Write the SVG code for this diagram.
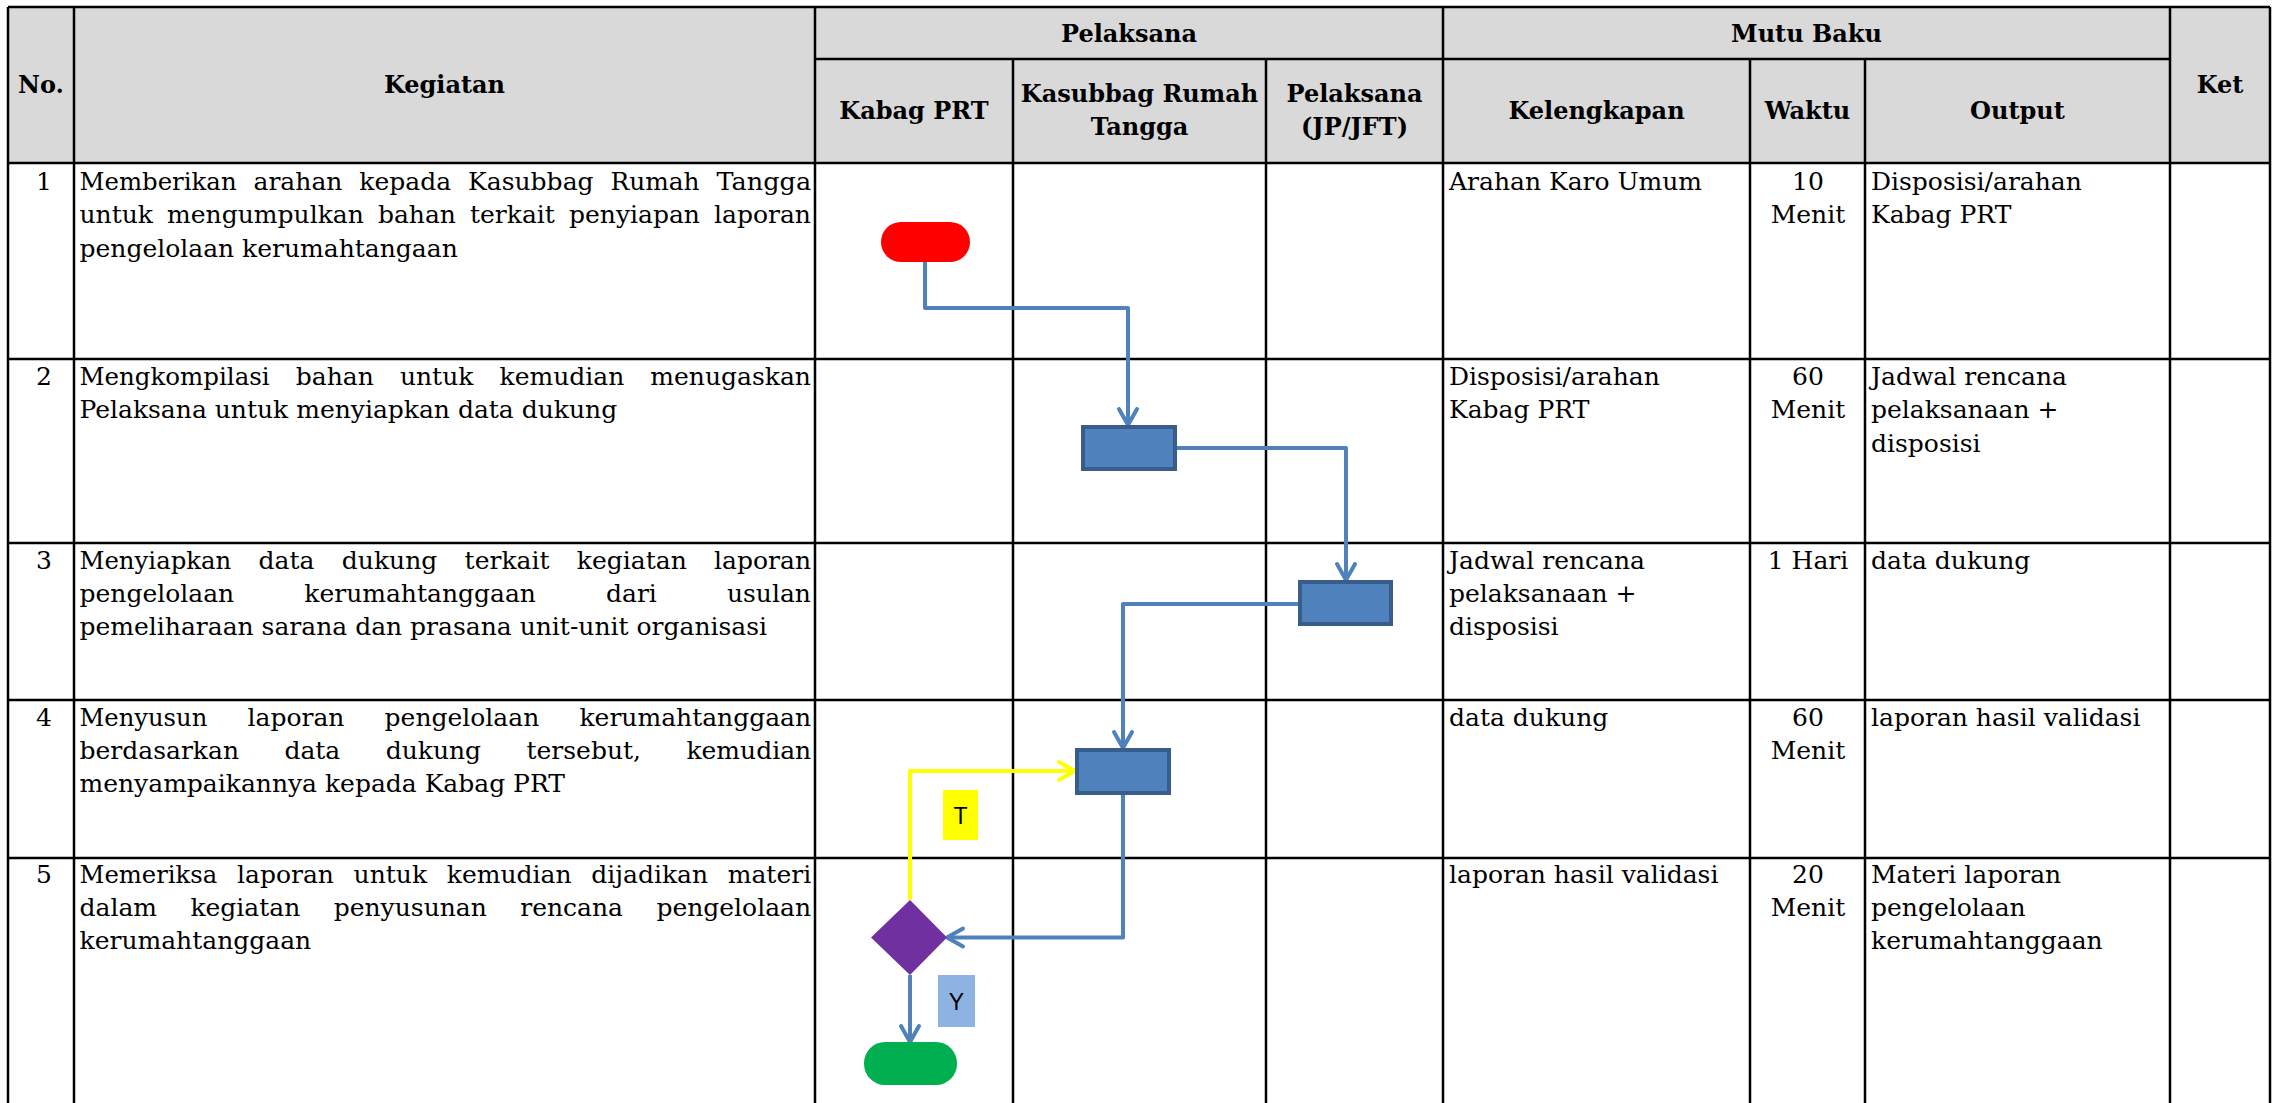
<svg xmlns="http://www.w3.org/2000/svg" width="2274" height="1103" viewBox="0 0 2274 1103">
<style>
.grid{stroke:#000;stroke-width:2.5;fill:none}
.hd{font-family:"DejaVu Serif",serif;font-weight:bold;font-size:24px;fill:#000;text-anchor:middle}
.tx{font-family:"DejaVu Serif",serif;font-size:25px;fill:#000}
.c{text-anchor:middle}
.box{fill:#4f81bd;stroke:#385d8a;stroke-width:4}
.conn{fill:none;stroke:#4f81bd;stroke-width:4;stroke-linejoin:round}
.yconn{fill:none;stroke:#ffff00;stroke-width:4;stroke-linejoin:round}
.lbl{font-family:"Liberation Sans",Arial,sans-serif;font-size:23px;fill:#000;text-anchor:middle}
</style>
<defs>
<marker id="arrB" viewBox="0 0 24 24" markerUnits="userSpaceOnUse" markerWidth="24" markerHeight="24" refX="21" refY="12" orient="auto" overflow="visible">
<path d="M5,3 L21,12 L5,21" fill="none" stroke="#4f81bd" stroke-width="4" stroke-linecap="round" stroke-linejoin="round"/>
</marker>
<marker id="arrY" viewBox="0 0 24 24" markerUnits="userSpaceOnUse" markerWidth="24" markerHeight="24" refX="21" refY="12" orient="auto" overflow="visible">
<path d="M5,3 L21,12 L5,21" fill="none" stroke="#ffff00" stroke-width="4" stroke-linecap="round" stroke-linejoin="round"/>
</marker>
</defs>
<rect width="2274" height="1103" fill="#fff"/>
<g id="table">
<rect x="8" y="7" width="2262" height="156" fill="#d9d9d9"/>
<line class="grid" x1="8" y1="7" x2="2270" y2="7"/>
<line class="grid" x1="815" y1="59" x2="2170" y2="59"/>
<line class="grid" x1="8" y1="163" x2="2270" y2="163"/>
<line class="grid" x1="8" y1="359" x2="2270" y2="359"/>
<line class="grid" x1="8" y1="543" x2="2270" y2="543"/>
<line class="grid" x1="8" y1="700" x2="2270" y2="700"/>
<line class="grid" x1="8" y1="858" x2="2270" y2="858"/>
<line class="grid" x1="8" y1="7" x2="8" y2="1103"/>
<line class="grid" x1="74" y1="7" x2="74" y2="1103"/>
<line class="grid" x1="815" y1="7" x2="815" y2="1103"/>
<line class="grid" x1="1013" y1="59" x2="1013" y2="1103"/>
<line class="grid" x1="1266" y1="59" x2="1266" y2="1103"/>
<line class="grid" x1="1443" y1="7" x2="1443" y2="1103"/>
<line class="grid" x1="1750" y1="59" x2="1750" y2="1103"/>
<line class="grid" x1="1865" y1="59" x2="1865" y2="1103"/>
<line class="grid" x1="2170" y1="7" x2="2170" y2="1103"/>
<line class="grid" x1="2270" y1="7" x2="2270" y2="1103"/>
</g>
<g id="header">
<text class="hd" x="41" y="93">No.</text>
<text class="hd" x="444.5" y="93">Kegiatan</text>
<text class="hd" x="1129" y="42">Pelaksana</text>
<text class="hd" x="1806.5" y="42">Mutu Baku</text>
<text class="hd" x="2220" y="93">Ket</text>
<text class="hd" x="914" y="119">Kabag PRT</text>
<text class="hd" x="1139.5" y="102">Kasubbag Rumah</text>
<text class="hd" x="1139.5" y="135">Tangga</text>
<text class="hd" x="1354.5" y="102">Pelaksana</text>
<text class="hd" x="1354.5" y="135">(JP/JFT)</text>
<text class="hd" x="1596.5" y="119">Kelengkapan</text>
<text class="hd" x="1807.5" y="119">Waktu</text>
<text class="hd" x="2017.5" y="119">Output</text>
</g>
<g id="row1">
<text class="tx c" x="44" y="190">1</text>
<text class="tx" x="79.5" y="190" textLength="157.1" lengthAdjust="spacingAndGlyphs">Memberikan</text>
<text class="tx" x="253.5" y="190" textLength="88.9" lengthAdjust="spacingAndGlyphs">arahan</text>
<text class="tx" x="359.3" y="190" textLength="91.8" lengthAdjust="spacingAndGlyphs">kepada</text>
<text class="tx" x="468" y="190" textLength="125.6" lengthAdjust="spacingAndGlyphs">Kasubbag</text>
<text class="tx" x="610.5" y="190" textLength="89.1" lengthAdjust="spacingAndGlyphs">Rumah</text>
<text class="tx" x="716.5" y="190" textLength="94.6" lengthAdjust="spacingAndGlyphs">Tangga</text>
<text class="tx" x="79.5" y="223" textLength="73.5" lengthAdjust="spacingAndGlyphs">untuk</text>
<text class="tx" x="167.1" y="223" textLength="196.7" lengthAdjust="spacingAndGlyphs">mengumpulkan</text>
<text class="tx" x="377.9" y="223" textLength="78" lengthAdjust="spacingAndGlyphs">bahan</text>
<text class="tx" x="470" y="223" textLength="84.9" lengthAdjust="spacingAndGlyphs">terkait</text>
<text class="tx" x="569" y="223" textLength="130.9" lengthAdjust="spacingAndGlyphs">penyiapan</text>
<text class="tx" x="714" y="223" textLength="96.9" lengthAdjust="spacingAndGlyphs">laporan</text>
<text class="tx" x="79.5" y="257">pengelolaan kerumahtangaan</text>
<text class="tx" x="1449" y="190">Arahan Karo Umum</text>
<text class="tx c" x="1808" y="190">10</text>
<text class="tx c" x="1808" y="223">Menit</text>
<text class="tx" x="1871" y="190">Disposisi/arahan</text>
<text class="tx" x="1871" y="223">Kabag PRT</text>
</g>
<g id="row2">
<text class="tx c" x="44" y="385">2</text>
<text class="tx" x="79.5" y="385" textLength="190.2" lengthAdjust="spacingAndGlyphs">Mengkompilasi</text>
<text class="tx" x="295.8" y="385" textLength="78" lengthAdjust="spacingAndGlyphs">bahan</text>
<text class="tx" x="399.9" y="385" textLength="73.5" lengthAdjust="spacingAndGlyphs">untuk</text>
<text class="tx" x="499.5" y="385" textLength="124.75" lengthAdjust="spacingAndGlyphs">kemudian</text>
<text class="tx" x="650.35" y="385" textLength="160.6" lengthAdjust="spacingAndGlyphs">menugaskan</text>
<text class="tx" x="79.5" y="418">Pelaksana untuk menyiapkan data dukung</text>
<text class="tx" x="1449" y="385">Disposisi/arahan</text>
<text class="tx" x="1449" y="418">Kabag PRT</text>
<text class="tx c" x="1808" y="385">60</text>
<text class="tx c" x="1808" y="418">Menit</text>
<text class="tx" x="1871" y="385">Jadwal rencana</text>
<text class="tx" x="1871" y="418">pelaksanaan +</text>
<text class="tx" x="1871" y="452">disposisi</text>
</g>
<g id="row3">
<text class="tx c" x="44" y="569">3</text>
<text class="tx" x="79.5" y="569" textLength="151.75" lengthAdjust="spacingAndGlyphs">Menyiapkan</text>
<text class="tx" x="258.6" y="569" textLength="55.85" lengthAdjust="spacingAndGlyphs">data</text>
<text class="tx" x="341.8" y="569" textLength="95.45" lengthAdjust="spacingAndGlyphs">dukung</text>
<text class="tx" x="464.6" y="569" textLength="84.9" lengthAdjust="spacingAndGlyphs">terkait</text>
<text class="tx" x="576.85" y="569" textLength="109.9" lengthAdjust="spacingAndGlyphs">kegiatan</text>
<text class="tx" x="714.1" y="569" textLength="96.9" lengthAdjust="spacingAndGlyphs">laporan</text>
<text class="tx" x="79.5" y="602" textLength="154.65" lengthAdjust="spacingAndGlyphs">pengelolaan</text>
<text class="tx" x="304.25" y="602" textLength="231.65" lengthAdjust="spacingAndGlyphs">kerumahtanggaan</text>
<text class="tx" x="606" y="602" textLength="50.85" lengthAdjust="spacingAndGlyphs">dari</text>
<text class="tx" x="726.95" y="602" textLength="84" lengthAdjust="spacingAndGlyphs">usulan</text>
<text class="tx" x="79.5" y="635">pemeliharaan sarana dan prasana unit-unit organisasi</text>
<text class="tx" x="1449" y="569">Jadwal rencana</text>
<text class="tx" x="1449" y="602">pelaksanaan +</text>
<text class="tx" x="1449" y="635">disposisi</text>
<text class="tx c" x="1808" y="569">1 Hari</text>
<text class="tx" x="1871" y="569">data dukung</text>
</g>
<g id="row4">
<text class="tx c" x="44" y="726">4</text>
<text class="tx" x="79.5" y="726" textLength="127.8" lengthAdjust="spacingAndGlyphs">Menyusun</text>
<text class="tx" x="247.5" y="726" textLength="96.9" lengthAdjust="spacingAndGlyphs">laporan</text>
<text class="tx" x="384.6" y="726" textLength="154.65" lengthAdjust="spacingAndGlyphs">pengelolaan</text>
<text class="tx" x="579.45" y="726" textLength="231.65" lengthAdjust="spacingAndGlyphs">kerumahtanggaan</text>
<text class="tx" x="79.5" y="759" textLength="159.5" lengthAdjust="spacingAndGlyphs">berdasarkan</text>
<text class="tx" x="284.4" y="759" textLength="55.85" lengthAdjust="spacingAndGlyphs">data</text>
<text class="tx" x="385.65" y="759" textLength="95.45" lengthAdjust="spacingAndGlyphs">dukung</text>
<text class="tx" x="526.5" y="759" textLength="114.5" lengthAdjust="spacingAndGlyphs">tersebut,</text>
<text class="tx" x="686.4" y="759" textLength="124.75" lengthAdjust="spacingAndGlyphs">kemudian</text>
<text class="tx" x="79.5" y="792">menyampaikannya kepada Kabag PRT</text>
<text class="tx" x="1449" y="726">data dukung</text>
<text class="tx c" x="1808" y="726">60</text>
<text class="tx c" x="1808" y="759">Menit</text>
<text class="tx" x="1871" y="726">laporan hasil validasi</text>
</g>
<g id="row5">
<text class="tx c" x="44" y="883">5</text>
<text class="tx" x="79.5" y="883" textLength="137.8" lengthAdjust="spacingAndGlyphs">Memeriksa</text>
<text class="tx" x="237" y="883" textLength="96.9" lengthAdjust="spacingAndGlyphs">laporan</text>
<text class="tx" x="353.6" y="883" textLength="73.5" lengthAdjust="spacingAndGlyphs">untuk</text>
<text class="tx" x="446.8" y="883" textLength="124.75" lengthAdjust="spacingAndGlyphs">kemudian</text>
<text class="tx" x="591.25" y="883" textLength="116.8" lengthAdjust="spacingAndGlyphs">dijadikan</text>
<text class="tx" x="727.75" y="883" textLength="83.4" lengthAdjust="spacingAndGlyphs">materi</text>
<text class="tx" x="79.5" y="916" textLength="77.5" lengthAdjust="spacingAndGlyphs">dalam</text>
<text class="tx" x="190.4" y="916" textLength="109.9" lengthAdjust="spacingAndGlyphs">kegiatan</text>
<text class="tx" x="333.7" y="916" textLength="153.15" lengthAdjust="spacingAndGlyphs">penyusunan</text>
<text class="tx" x="520.25" y="916" textLength="102.75" lengthAdjust="spacingAndGlyphs">rencana</text>
<text class="tx" x="656.4" y="916" textLength="154.65" lengthAdjust="spacingAndGlyphs">pengelolaan</text>
<text class="tx" x="79.5" y="949">kerumahtanggaan</text>
<text class="tx" x="1449" y="883">laporan hasil validasi</text>
<text class="tx c" x="1808" y="883">20</text>
<text class="tx c" x="1808" y="916">Menit</text>
<text class="tx" x="1871" y="883">Materi laporan</text>
<text class="tx" x="1871" y="916">pengelolaan</text>
<text class="tx" x="1871" y="949">kerumahtanggaan</text>
</g>
<g id="connectors">
<path class="conn" d="M925,262 V308 H1128 V425" marker-end="url(#arrB)"/>
<path class="conn" d="M1177,448 H1346 V580" marker-end="url(#arrB)"/>
<path class="conn" d="M1299,604 H1123 V748" marker-end="url(#arrB)"/>
<path class="conn" d="M1123,795 V937.5 H947" marker-end="url(#arrB)"/>
<path class="yconn" d="M910,900 V771 H1075" marker-end="url(#arrY)"/>
<path class="conn" d="M910,975 V1042" marker-end="url(#arrB)"/>
</g>
<g id="start"><rect x="881" y="222" width="89" height="40" rx="20" fill="#ff0000"/></g>
<g id="step2"><rect class="box" x="1083" y="427" width="92" height="42"/></g>
<g id="step3"><rect class="box" x="1300" y="582" width="91" height="42"/></g>
<g id="step4"><rect class="box" x="1077" y="750" width="92" height="43"/></g>
<g id="decision"><polygon points="910,900 947,937.5 910,975 871,937.5" fill="#7030a0"/></g>
<g id="end"><rect x="864" y="1042" width="93" height="43" rx="21" fill="#00b050"/></g>
<g id="label-T"><rect x="943" y="790" width="35" height="50" fill="#ffff00"/><text class="lbl" x="960.5" y="824">T</text></g>
<g id="label-Y"><rect x="938" y="975" width="37" height="52" fill="#8db3e2"/><text class="lbl" x="956.5" y="1010">Y</text></g>
</svg>
